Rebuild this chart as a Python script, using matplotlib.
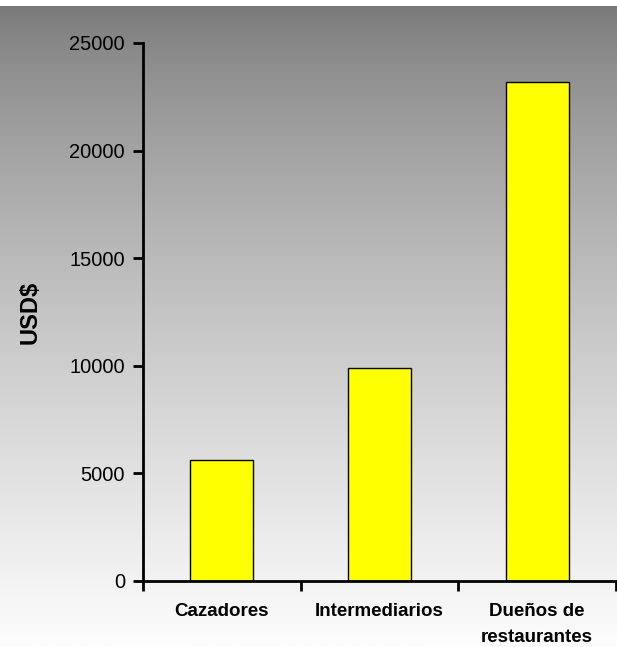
import numpy as np
import matplotlib.pyplot as plt
from matplotlib.ticker import FixedLocator, NullFormatter

# Data
categories = ['Cazadores', 'Intermediarios', 'Dueños de\nrestaurantes']
values = [5600, 9900, 23200]
yticks = [0, 5000, 10000, 15000, 20000, 25000]

fig = plt.figure(figsize=(6.17, 6.47), dpi=100)

# gradient background (dark gray at top -> near white at bottom)
bg = fig.add_axes([0, 0, 1, 641 / 647], zorder=0)
t = np.linspace(0, 1, 256)
grad = (120 + 133 * t ** 0.75) / 255.0
img = np.stack([grad, grad, grad], axis=-1)[:, None, :].repeat(2, axis=1)
bg.imshow(img, aspect='auto', extent=[0, 1, 0, 1], origin='upper')
bg.axis('off')

ax = fig.add_axes([143 / 617, 66 / 647, 473 / 617, 538 / 647], zorder=1)
ax.patch.set_alpha(0)

x = np.arange(len(categories))
ax.bar(x, values, width=0.4, color='#FFFF00', edgecolor='black', linewidth=1)

ax.set_xlim(-0.5, len(categories) - 0.5)
ax.set_ylim(0, 25000)
ax.set_yticks(yticks)
ax.set_yticklabels([str(t) for t in yticks], fontsize=14.5, family='Liberation Sans')

# category labels at centers, tick marks at boundaries
ax.xaxis.set_major_locator(FixedLocator(np.arange(-0.5, len(categories), 1.0)))
ax.xaxis.set_major_formatter(NullFormatter())
ax.xaxis.set_minor_locator(FixedLocator(x))
ax.set_xticklabels(categories, minor=True, fontsize=13.5, fontweight='bold',
                   family='Liberation Sans', linespacing=1.65)
ax.tick_params(axis='x', which='minor', length=0, pad=16)
ax.tick_params(axis='x', which='major', length=7, width=2, direction='out')
ax.tick_params(axis='y', length=7, width=2, direction='out', pad=6)

for s in ['top', 'right']:
    ax.spines[s].set_visible(False)
for s in ['left', 'bottom']:
    ax.spines[s].set_linewidth(2)

ax.set_ylabel('USD$', fontsize=17, fontweight='bold', family='Liberation Sans', labelpad=20)

fig.savefig('out.png', dpi=100)
